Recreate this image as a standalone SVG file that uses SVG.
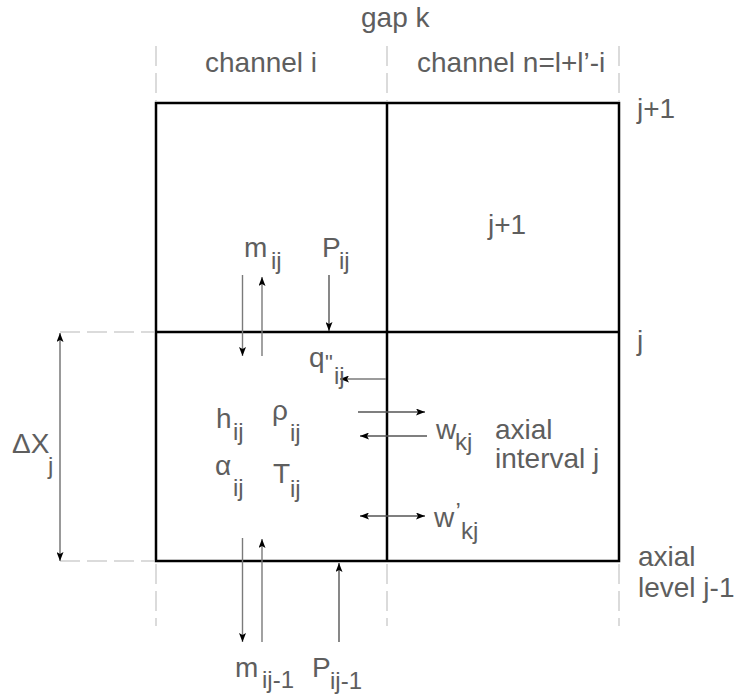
<svg xmlns="http://www.w3.org/2000/svg" width="736" height="699" viewBox="0 0 736 699">
<style>
text{font-family:"Liberation Sans",Arial,sans-serif;fill:#5e5e5e;font-size:28px}
.s{font-size:24px}
.box{fill:none;stroke:#000;stroke-width:2.5}
.guide{stroke:#d0d0d0;stroke-width:1.5;stroke-dasharray:20 7;fill:none}
.arr{stroke:#555;stroke-width:1.4;fill:none;marker-end:url(#ah)}
.lt{stroke:#7a7a7a}
.dbl{stroke:#555;stroke-width:1.4;fill:none;marker-end:url(#ah);marker-start:url(#ah)}
</style>
<defs>
<marker id="ah" viewBox="0 0 9 7" refX="9" refY="3.5" markerWidth="9" markerHeight="7" markerUnits="userSpaceOnUse" orient="auto-start-reverse">
<path d="M0,0 L9,3.5 L0,7 L2,3.5 z" fill="#000"/>
</marker>
</defs>
<rect width="736" height="699" fill="#fff"/>
<g id="guides">
<line class="guide" x1="156" y1="46" x2="156" y2="101"/>
<line class="guide" x1="387" y1="46" x2="387" y2="101"/>
<line class="guide" x1="619" y1="46" x2="619" y2="101"/>
<line class="guide" x1="156" y1="564" x2="156" y2="626"/>
<line class="guide" x1="387" y1="564" x2="387" y2="626"/>
<line class="guide" x1="619" y1="564" x2="619" y2="626"/>
<line class="guide" x1="60" y1="332" x2="154" y2="332"/>
<line class="guide" x1="60" y1="561" x2="154" y2="561"/>
</g>
<g id="grid">
<rect class="box" x="156" y="103" width="463" height="458"/>
<line class="box" x1="387" y1="103" x2="387" y2="561"/>
<line class="box" x1="156" y1="332" x2="619" y2="332"/>
</g>
<g id="connectors">
<line class="arr lt" x1="242.5" y1="275" x2="242.5" y2="356"/>
<line class="arr lt" x1="262" y1="356" x2="262" y2="277"/>
<line class="arr" x1="329" y1="275" x2="329" y2="331"/>
<line class="arr lt" x1="386" y1="379" x2="340" y2="379"/>
<line class="arr" x1="358" y1="412" x2="425" y2="412"/>
<line class="arr" x1="427" y1="436" x2="360" y2="436"/>
<line class="dbl" x1="360" y1="516" x2="425" y2="516"/>
<line class="arr lt" x1="242.5" y1="538" x2="242.5" y2="642"/>
<line class="arr lt" x1="262" y1="642" x2="262" y2="539"/>
<line class="arr" x1="339" y1="642" x2="339" y2="563"/>
<line class="dbl" x1="60" y1="333" x2="60" y2="561" style="stroke:#999;stroke-width:2"/>
</g>
<g id="labels">
<text x="361" y="27">gap k</text>
<text x="205" y="72">channel i</text>
<text x="417" y="72">channel n=l+l’-i</text>
<text x="637" y="118">j+1</text>
<text x="637" y="350">j</text>
<text x="488" y="234">j+1</text>
</g>
<g id="cell-ij">
<text x="244" y="257">m<tspan class="s" x="271" y="269">ij</tspan></text>
<text x="322" y="257">P<tspan class="s" x="339" y="269">ij</tspan></text>
<text x="309" y="367">q<tspan style="font-size:22px" x="325" y="370">"</tspan><tspan class="s" x="334" y="384">ij</tspan></text>
<text x="216" y="428">h<tspan class="s" x="233" y="440">ij</tspan></text>
<text x="272" y="420">ρ<tspan class="s" x="290" y="441">ij</tspan></text>
<text x="215" y="475">α<tspan class="s" x="233" y="496">ij</tspan></text>
<text x="273" y="483">T<tspan class="s" x="290" y="497">ij</tspan></text>
</g>
<g id="gap-flows">
<text x="436" y="439">w<tspan class="s" x="455" y="450">kj</tspan></text>
<text x="495" y="439">axial</text>
<text x="495" y="468">interval j</text>
<text x="434" y="527">w<tspan class="s" x="455.5" y="520">’</tspan><tspan class="s" x="461" y="539">kj</tspan></text>
</g>
<g id="axial-level">
<text x="638" y="566">axial</text>
<text x="638" y="597">level j-1</text>
</g>
<g id="dx">
<text x="12" y="453">ΔX<tspan class="s" x="48" y="474">j</tspan></text>
</g>
<g id="bottom">
<text x="235" y="677">m<tspan class="s" x="262" y="688">ij-1</tspan></text>
<text x="312" y="677">P<tspan class="s" x="330" y="689">ij-1</tspan></text>
</g>
</svg>
